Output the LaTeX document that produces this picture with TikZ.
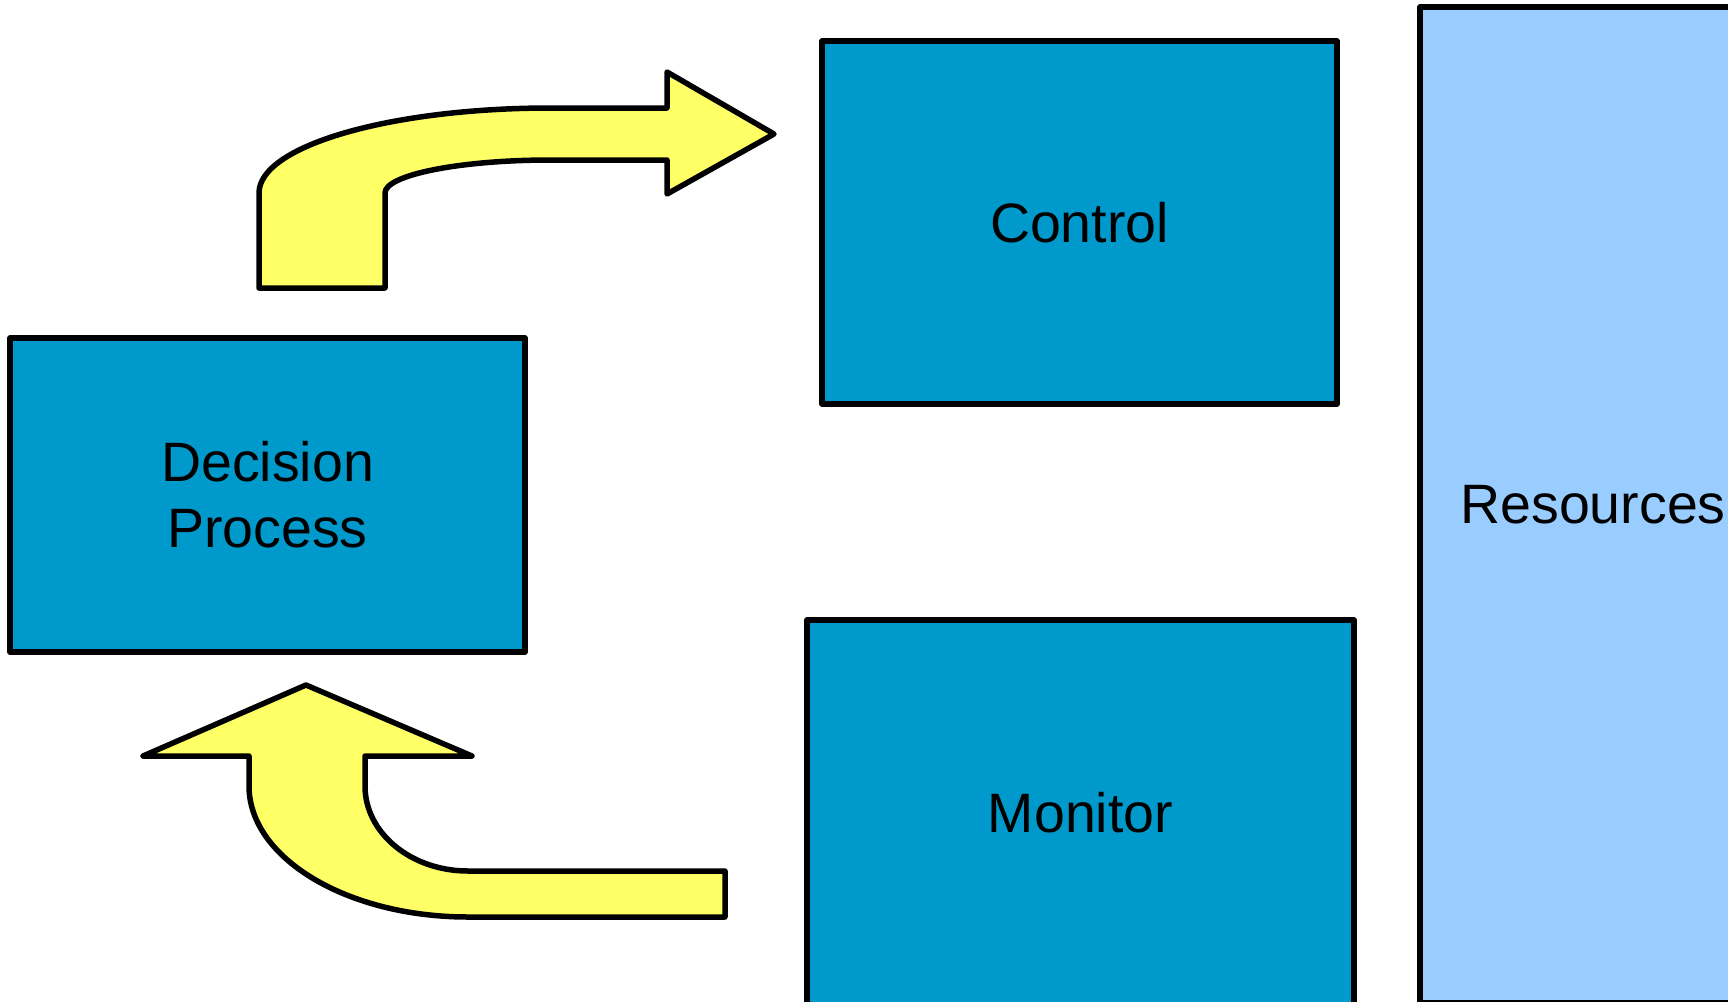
\documentclass[tikz,border=0pt]{standalone}
\usepackage{fontspec}
\setmainfont{Liberation Sans}
\definecolor{boxblue}{RGB}{0,153,204}
\definecolor{resblue}{RGB}{153,204,255}
\definecolor{arrowyellow}{RGB}{255,255,102}
\begin{document}
\begin{tikzpicture}[x=1pt,y=-1pt,
  blockbox/.style={draw=black,line width=5.5pt,line join=round,fill=boxblue,
    rectangle,inner sep=0pt,align=center,font=\fontsize{55.5}{66}\selectfont},
  resbox/.style={blockbox,fill=resblue},
  bigarrow/.style={draw=black,line width=5.5pt,line join=round,line cap=round,fill=arrowyellow}]
\useasboundingbox (0,0) rectangle (1728,1001);
\clip (0,0) rectangle (1728,1001);
\node[blockbox,minimum width=515pt,minimum height=314pt] (decision) at (267.5,495) {Decision\\Process};
\node[blockbox,minimum width=515pt,minimum height=363pt] (control) at (1079.5,222.5) {Control};
\node[blockbox,minimum width=547pt,minimum height=386pt] (monitor) at (1080.5,813) {Monitor};
\node[resbox,minimum width=346pt,minimum height=996pt] (resources) at (1593,505) {Resources};
% top bent arrow (decision -> control)
\draw[bigarrow] (259,288) -- (259,193) .. controls (259,146) and (390,108) .. (551,108)
  -- (667,108) -- (667,72) -- (774,134) -- (667,194) -- (667,160) -- (551,160)
  .. controls (459,160) and (385,175) .. (385,193) -- (385,288) -- cycle;
% bottom bent arrow (monitor -> decision)
\draw[bigarrow] (306,685) -- (472,756) -- (365,756) -- (365,786)
  .. controls (365,833) and (411,871) .. (468,871) -- (725,871) -- (725,917) -- (468,917)
  .. controls (347,917) and (249,858) .. (249,786) -- (249,756) -- (143,756) -- cycle;
\end{tikzpicture}
\end{document}
